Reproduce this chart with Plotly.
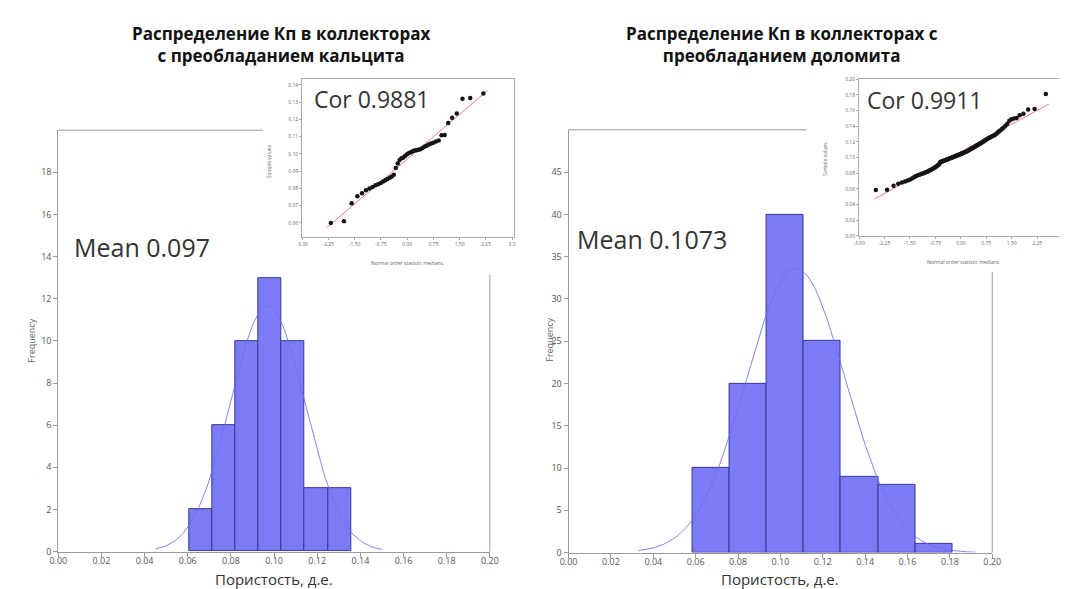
import plotly.graph_objects as go
from statistics import NormalDist

W, H = 1067, 589

# ---------------- data ----------------
calc_bin_edges = [0.0607, 0.0714, 0.0821, 0.0928, 0.1035, 0.1142, 0.1249, 0.1356]
calc_counts = [2, 6, 10, 13, 10, 3, 3]
calc_mean = 0.097
calc_sd = 0.0172
calc_curve_span = [0.045, 0.150]

dol_bin_edges = [0.0584, 0.0759, 0.0935, 0.1110, 0.1285, 0.1461, 0.1636, 0.1811]
dol_counts = [10, 20, 40, 25, 9, 8, 1]
dol_mean = 0.1073
dol_sd = 0.0235
dol_curve_span = [0.033, 0.192]

x_tick_vals = [0.00, 0.02, 0.04, 0.06, 0.08, 0.10, 0.12, 0.14, 0.16, 0.18, 0.20]
x_tick_text = ["0.00", "0.02", "0.04", "0.06", "0.08", "0.10", "0.12", "0.14", "0.16", "0.18", "0.20"]
calc_y_ticks = [0, 2, 4, 6, 8, 10, 12, 14, 16, 18]
dol_y_ticks = [0, 5, 10, 15, 20, 25, 30, 35, 40, 45]

# sorted sample values for Q-Q plots
calc_sample = [0.0600, 0.0610, 0.0715, 0.0755, 0.0773, 0.0790, 0.0800, 0.0808,
               0.0818, 0.0825, 0.0832, 0.0840, 0.0848, 0.0855, 0.0862, 0.0870,
               0.0880, 0.0918, 0.0945, 0.0965, 0.0975, 0.0980, 0.0990, 0.0998,
               0.1005, 0.1010, 0.1015, 0.1020, 0.1022, 0.1025, 0.1028, 0.1035,
               0.1042, 0.1048, 0.1055, 0.1060, 0.1065, 0.1072, 0.1078, 0.1108,
               0.1110, 0.1180, 0.1210, 0.1235, 0.1320, 0.1325, 0.1350]
dol_sample = [0.0585, 0.0588, 0.0640, 0.0665, 0.0680, 0.0695, 0.0705, 0.0720, 0.0735, 0.0750,
              0.0765, 0.0772, 0.0780, 0.0788, 0.0795, 0.0800, 0.0808, 0.0815, 0.0822, 0.0830,
              0.0838, 0.0845, 0.0852, 0.0860, 0.0868, 0.0875, 0.0885, 0.0895, 0.0905, 0.0915,
              0.0940, 0.0945, 0.0950, 0.0953, 0.0958, 0.0962, 0.0966, 0.0970, 0.0974, 0.0978,
              0.0982, 0.0986, 0.0990, 0.0994, 0.0998, 0.1002, 0.1006, 0.1010, 0.1014, 0.1018,
              0.1022, 0.1026, 0.1030, 0.1034, 0.1038, 0.1042, 0.1046, 0.1050, 0.1054, 0.1058,
              0.1062, 0.1066, 0.1070, 0.1075, 0.1080, 0.1085, 0.1090, 0.1096, 0.1102, 0.1108,
              0.1115, 0.1120, 0.1126, 0.1132, 0.1138, 0.1144, 0.1150, 0.1156, 0.1162, 0.1168,
              0.1175, 0.1182, 0.1190, 0.1198, 0.1206, 0.1214, 0.1222, 0.1230, 0.1238, 0.1245,
              0.1252, 0.1260, 0.1268, 0.1275, 0.1282,
              0.1290, 0.1305, 0.1320, 0.1335, 0.1350, 0.1368, 0.1385, 0.1405, 0.1430,
              0.1470, 0.1490, 0.1500, 0.1505, 0.1540, 0.1560, 0.1615, 0.1620,
              0.1810]
calc_qq_line_x = [-2.30, 2.30]
calc_qq_line_y = [0.0572, 0.1368]
dol_qq_line_x = [-2.55, 2.60]
dol_qq_line_y = [0.0470, 0.1685]

qq_x_tick_vals = [-3.0, -2.25, -1.5, -0.75, 0.0, 0.75, 1.5, 2.25, 3.0]
qq_x_tick_text = ["-3.00", "-2.25", "-1.50", "-0.75", "0.00", "0.75", "1.50", "2.25", "3.0"]
calc_qq_y_ticks = [0.06, 0.07, 0.08, 0.09, 0.10, 0.11, 0.12, 0.13, 0.14]
dol_qq_y_ticks = [0.00, 0.02, 0.04, 0.06, 0.08, 0.10, 0.12, 0.14, 0.16, 0.18, 0.20]

title_left = "Распределение Кп в коллекторах<br>с преобладанием кальцита"
title_right = "Распределение Кп в коллекторах с<br>преобладанием доломита"
mean_left = "Mean 0.097"
mean_right = "Mean 0.1073"
cor_left = "Cor 0.9881"
cor_right = "Cor 0.9911"
x_title = "Пористость, д.е."
y_title = "Frequency"
qq_x_title = "Normal order statistic medians"
qq_y_title = "Sample values"


# ---------------- helpers ----------------
def PX(px):
    return px / W


def PY(py):
    return 1 - py / H


def order_stat_medians(n):
    nd = NormalDist()
    res = []
    for i in range(1, n + 1):
        if i == 1:
            p = 1 - 0.5 ** (1.0 / n)
        elif i == n:
            p = 0.5 ** (1.0 / n)
        else:
            p = (i - 0.3175) / (n + 0.365)
        res.append(nd.inv_cdf(p))
    return res


def normal_curve(mean, sd, n, bw, span, steps=120):
    nd = NormalDist(mean, sd)
    xs = [span[0] + (span[1] - span[0]) * k / steps for k in range(steps + 1)]
    ys = [n * bw * nd.pdf(x) for x in xs]
    return xs, ys


BAR_FILL = "#7b7bf6"
BAR_LINE = "#383894"
CURVE = "rgba(110,110,235,0.85)"
AX = "#9a9a9a"
TICKF = dict(family="Open Sans, DejaVu Sans, sans-serif", size=9, color="#555")

fig = go.Figure()


def add_hist(edges, counts, mean, sd, span, xa, ya):
    centers = [(edges[i] + edges[i + 1]) / 2 for i in range(len(counts))]
    widths = [edges[i + 1] - edges[i] for i in range(len(counts))]
    fig.add_trace(go.Bar(x=centers, y=counts, width=widths,
                         marker=dict(color=BAR_FILL, line=dict(color=BAR_LINE, width=1)),
                         xaxis=xa, yaxis=ya, showlegend=False, hoverinfo="skip"))
    bw = sum(widths) / len(widths)
    xs, ys = normal_curve(mean, sd, sum(counts), bw, span)
    fig.add_trace(go.Scatter(x=xs, y=ys, mode="lines", line=dict(color=CURVE, width=1),
                             xaxis=xa, yaxis=ya, showlegend=False, hoverinfo="skip"))


def add_qq(sample, lx, ly, xa, ya):
    q = order_stat_medians(len(sample))
    fig.add_trace(go.Scatter(x=lx, y=ly, mode="lines", line=dict(color="#ec7d7d", width=1),
                             xaxis=xa, yaxis=ya, showlegend=False, hoverinfo="skip"))
    fig.add_trace(go.Scatter(x=q, y=sample, mode="markers",
                             marker=dict(color="#151515", size=4.5),
                             xaxis=xa, yaxis=ya, showlegend=False, hoverinfo="skip"))


add_hist(calc_bin_edges, calc_counts, calc_mean, calc_sd, calc_curve_span, "x", "y")
add_hist(dol_bin_edges, dol_counts, dol_mean, dol_sd, dol_curve_span, "x2", "y2")
add_qq(calc_sample, calc_qq_line_x, calc_qq_line_y, "x3", "y3")
add_qq(dol_sample, dol_qq_line_x, dol_qq_line_y, "x4", "y4")

hist_ax = dict(showline=True, linecolor=AX, linewidth=1, ticks="outside", ticklen=4,
               tickcolor=AX, tickfont=TICKF, showgrid=False, zeroline=False)
qq_font = dict(family="Open Sans, DejaVu Sans, sans-serif", size=5, color="#666")
qq_ax = dict(showline=True, linecolor="#aaa", linewidth=1, ticks="outside", ticklen=2,
             tickcolor="#aaa", tickfont=qq_font, showgrid=False, zeroline=False)

fig.update_layout(
    width=W, height=H,
    margin=dict(l=0, r=0, t=0, b=0),
    paper_bgcolor="white", plot_bgcolor="rgba(0,0,0,0)",
    bargap=0,
    xaxis=dict(domain=[PX(42), PX(481)], range=[0, 0.2], anchor="y",
               tickvals=x_tick_vals, ticktext=x_tick_text, ticklabelstandoff=-3, **hist_ax),
    yaxis=dict(domain=[PY(549), PY(121)], range=[0, 20], anchor="x",
               tickvals=calc_y_ticks, **hist_ax),
    xaxis2=dict(domain=[PX(561), PX(992)], range=[0, 0.2], anchor="y2",
                tickvals=x_tick_vals, ticktext=x_tick_text, ticklabelstandoff=-3, **hist_ax),
    yaxis2=dict(domain=[PY(550), PY(120.7)], range=[0, 50], anchor="x2",
                tickvals=dol_y_ticks, **hist_ax),
    xaxis3=dict(domain=[PX(290), PX(505.7)], range=[-3.0, 3.06], anchor="y3", mirror=True,
                tickvals=qq_x_tick_vals, ticktext=qq_x_tick_text, **qq_ax),
    yaxis3=dict(domain=[PY(230), PY(69.3)], range=[0.0516, 0.1433], anchor="x3", mirror=True,
                tickvals=calc_qq_y_ticks, tickformat=".2f", **qq_ax),
    xaxis4=dict(domain=[PX(856.5), 1.0], range=[-3.0, 3.10], anchor="y4", mirror=True,
                tickvals=qq_x_tick_vals, ticktext=qq_x_tick_text, **qq_ax),
    yaxis4=dict(domain=[PY(228.3), PY(69.3)], range=[0.0, 0.2], anchor="x4",
                tickvals=dol_qq_y_ticks, tickformat=".2f", **qq_ax),
)

# partial frame lines of histograms
shapes = [
    dict(type="line", xref="paper", yref="paper", x0=PX(42), x1=PX(250), y0=PY(121), y1=PY(121),
         line=dict(color=AX, width=1)),
    dict(type="line", xref="paper", yref="paper", x0=PX(481), x1=PX(481), y0=PY(268), y1=PY(549),
         line=dict(color=AX, width=1)),
    dict(type="line", xref="paper", yref="paper", x0=PX(561), x1=PX(803), y0=PY(120.7), y1=PY(120.7),
         line=dict(color=AX, width=1)),
    dict(type="line", xref="paper", yref="paper", x0=PX(992), x1=PX(992), y0=PY(265), y1=PY(550),
         line=dict(color=AX, width=1)),
]
fig.update_layout(shapes=shapes)

TITLEF = dict(family="Open Sans, DejaVu Sans, sans-serif", size=17, color="#111")
BIGF = dict(family="Open Sans, DejaVu Sans, sans-serif", size=25, color="#333")
CORF = dict(family="Open Sans, DejaVu Sans, sans-serif", size=23, color="#333")
AXTF = dict(family="Open Sans, DejaVu Sans, sans-serif", size=15, color="#333")
SMALLF = dict(family="Open Sans, DejaVu Sans, sans-serif", size=9, color="#666")


def ann(text, px, py, font, xanchor="center", yanchor="middle", angle=0):
    return dict(text=text, x=PX(px), y=PY(py), xref="paper", yref="paper",
                xanchor=xanchor, yanchor=yanchor, showarrow=False, font=font,
                textangle=angle)


annotations = [
    ann("<b>" + title_left + "</b>", 269, 34, TITLEF),
    ann("<b>" + title_right + "</b>", 778, 34, TITLEF),
    ann(mean_left, 56, 240, BIGF, xanchor="left"),
    ann(mean_right, 568, 232, BIGF, xanchor="left"),
    ann(cor_left, 300, 89, CORF, xanchor="left"),
    ann(cor_right, 863, 90, CORF, xanchor="left"),
    ann(x_title, 261, 589, AXTF, yanchor="bottom"),
    ann(x_title, 776, 589, AXTF, yanchor="bottom"),
    ann(y_title, 15, 335, SMALLF, angle=-90),
    ann(y_title, 542, 334, SMALLF, angle=-90),
    ann(qq_x_title, 397, 256, qq_font),
    ann(qq_x_title, 963, 255, qq_font),
    ann(qq_y_title, 256, 153, qq_font, angle=-90),
    ann(qq_y_title, 822, 150, qq_font, angle=-90),
]
fig.update_layout(annotations=annotations)

fig.write_html("out.html")
